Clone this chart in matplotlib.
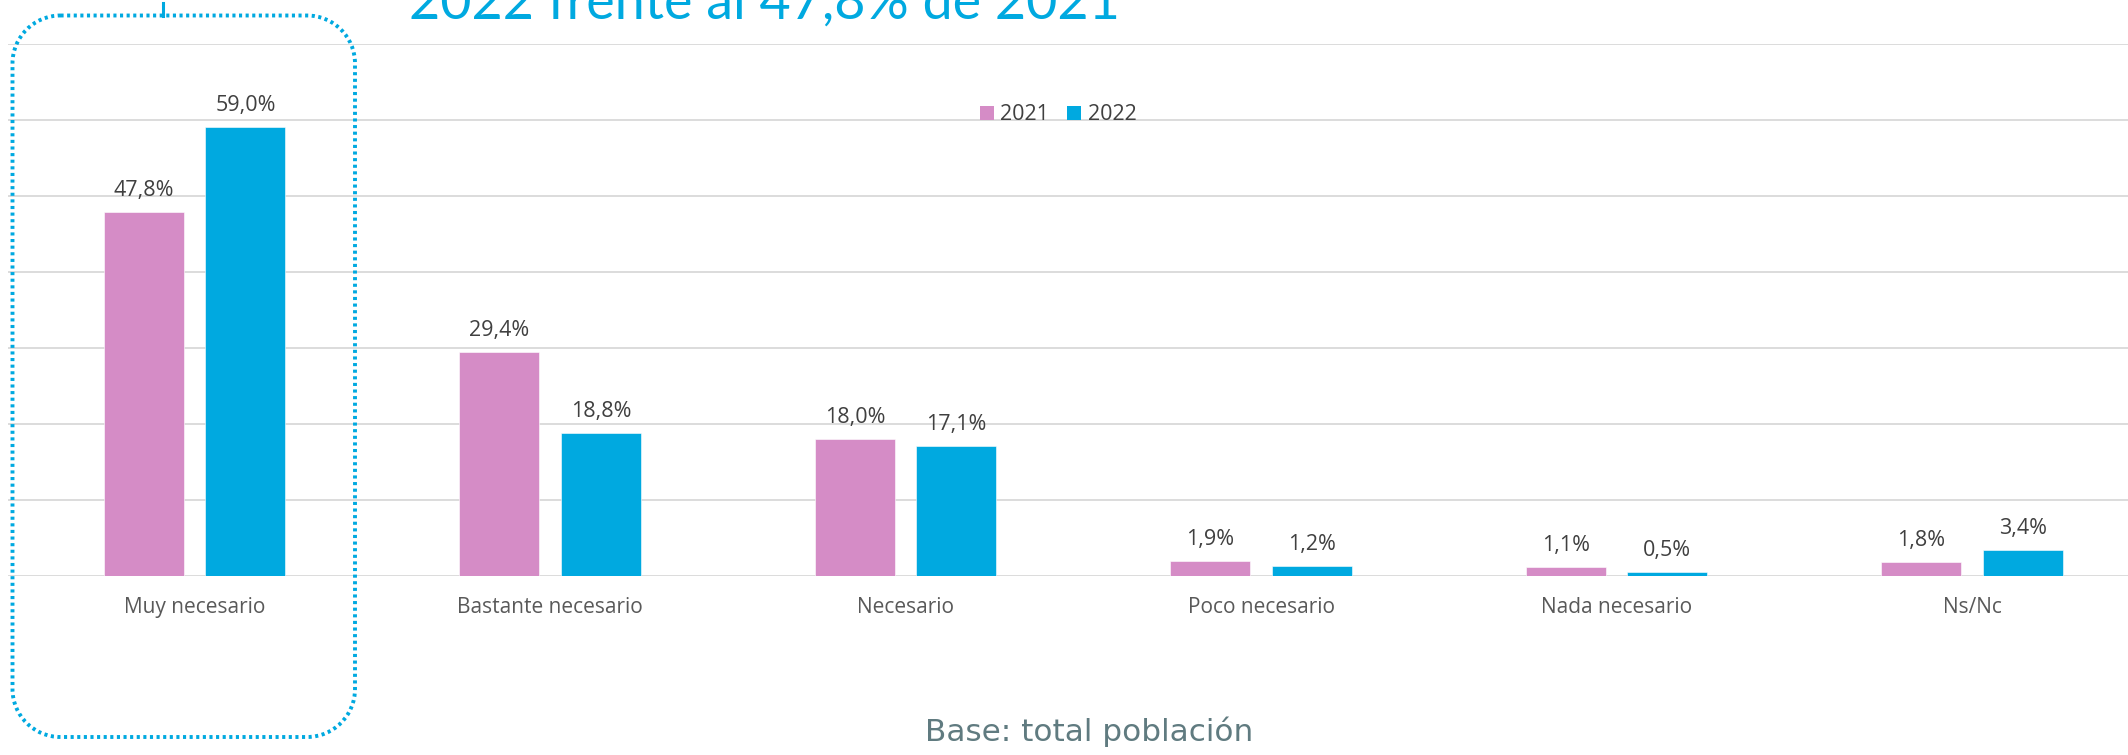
import matplotlib
matplotlib.use("Agg")
import matplotlib.pyplot as plt
from matplotlib.patches import Patch, PathPatch
from matplotlib.lines import Line2D
from matplotlib.path import Path
from matplotlib.transforms import Affine2D
import numpy as np

categories = ["Muy necesario", "Bastante necesario", "Necesario", "Poco necesario", "Nada necesario", "Ns/Nc"]
values_2021 = [47.8, 29.4, 18.0, 1.9, 1.1, 1.8]
values_2022 = [59.0, 18.8, 17.1, 1.2, 0.5, 3.4]
series_names = ["2021", "2022"]
title_text = "2022 frente al 47,8% de 2021"
base_text = "Base: total población"

PINK = "#D58CC6"
BLUE = "#00A9E0"
W, H = 2128, 755
DPI = 100

plt.rcParams['font.family'] = ['Open Sans', 'DejaVu Sans']

fig = plt.figure(figsize=(W / DPI, H / DPI), dpi=DPI)
fig.patch.set_facecolor("white")

# axes geometry in pixels
ax_left, ax_right = 8, W
ax_base, ax_top = 575.5, 43.7
ax = fig.add_axes([ax_left / W, (H - ax_base) / H, (ax_right - ax_left) / W, (ax_base - ax_top) / H])

cat_spacing = 355.45
cat0 = 194.7
x = np.arange(len(categories))
bw = 80 / cat_spacing
off = 50.7 / cat_spacing

b1 = ax.bar(x - off, values_2021, bw, color=PINK, edgecolor="white", linewidth=0.4, label=series_names[0], zorder=3)
b2 = ax.bar(x + off, values_2022, bw, color=BLUE, edgecolor="white", linewidth=0.4, label=series_names[1], zorder=3)

ax.set_xlim((ax_left - cat0) / cat_spacing, (ax_right - cat0) / cat_spacing)
ax.set_ylim(0, 70)
ax.set_yticks(np.arange(0, 71, 10))
ax.yaxis.grid(True, color="#D9D9D9", linewidth=1.3, zorder=0)
ax.set_axisbelow(True)
for s in ax.spines.values():
    s.set_visible(False)
ax.tick_params(axis="y", left=False, labelleft=False)
ax.tick_params(axis="x", bottom=False, length=0, pad=27)
ax.set_xticks(x)
ax.set_xticklabels(categories, fontsize=15, color="#595959")
for lbl in ax.get_xticklabels():
    lbl.set_verticalalignment("baseline")

def fmt(v):
    return f"{v:.1f}".replace(".", ",") + "%"

for bars, vals in ((b1, values_2021), (b2, values_2022)):
    for r, v in zip(bars, vals):
        ax.annotate(fmt(v), (r.get_x() + r.get_width() / 2, v), xytext=(0, 11.5),
                    textcoords="offset points", ha="center", va="baseline",
                    fontsize=15.5, color="#404040", zorder=4)

# legend
handles = [Patch(facecolor=PINK, edgecolor="none"), Patch(facecolor=BLUE, edgecolor="none")]
leg = fig.legend(handles, series_names, loc="center", bbox_to_anchor=(1058 / W, (H - 115) / H),
                 ncol=2, frameon=False, fontsize=15.5, handlelength=0.65, handleheight=0.65,
                 handletextpad=0.3, columnspacing=0.85, borderpad=0, borderaxespad=0)
for t in leg.get_texts():
    t.set_color("#404040")

# title (partially cut at top, as in the reference) and base note
fig.canvas.draw()
renderer = fig.canvas.get_renderer()

def fit_text(xl, y_base, s, target_w, color, family, weight="normal"):
    t = fig.text(xl / W, (H - y_base) / H, s, ha="left", va="baseline", color=color,
                 family=family, weight=weight, fontsize=30)
    wpx = t.get_window_extent(renderer).width
    t.set_fontsize(30 * target_w / wpx)
    return t

fit_text(409, 18.5, title_text, 711, BLUE, ['Lato', 'DejaVu Sans'])
fit_text(925, 741, base_text, 328, "#607B80", ['DejaVu Sans'])

# dotted rounded highlight box (pixel coordinates)
bx0, bx1, by0, by1 = 12.5, 355, 15.5, 737
r = 48
k = 0.5523
p, c = [], []
def add(pt, code):
    p.append((pt[0], H - pt[1])); c.append(code)
add((bx0 + r, by0), Path.MOVETO)
add((bx1 - r, by0), Path.LINETO)
add((bx1 - r + k * r, by0), Path.CURVE4); add((bx1, by0 + r - k * r), Path.CURVE4); add((bx1, by0 + r), Path.CURVE4)
add((bx1, by1 - r), Path.LINETO)
add((bx1, by1 - r + k * r), Path.CURVE4); add((bx1 - r + k * r, by1), Path.CURVE4); add((bx1 - r, by1), Path.CURVE4)
add((bx0 + r, by1), Path.LINETO)
add((bx0 + r - k * r, by1), Path.CURVE4); add((bx0, by1 - r + k * r), Path.CURVE4); add((bx0, by1 - r), Path.CURVE4)
add((bx0, by0 + r), Path.LINETO)
add((bx0, by0 + r - k * r), Path.CURVE4); add((bx0 + r - k * r, by0), Path.CURVE4); add((bx0 + r, by0), Path.CURVE4)
path = Path(p, c)
tr = Affine2D().scale(1 / W, 1 / H) + fig.transFigure
fig.patches.append(PathPatch(path, transform=tr, facecolor="none", edgecolor=BLUE,
                             linewidth=2.8, linestyle=(0, (0.8, 0.9)), zorder=10))
fig.lines.append(Line2D([163 / W, 163 / W], [(H - 3) / H, (H - 15.5) / H], transform=fig.transFigure,
                        color=BLUE, linewidth=2.2))

fig.savefig("out.png", dpi=DPI, facecolor="white")
